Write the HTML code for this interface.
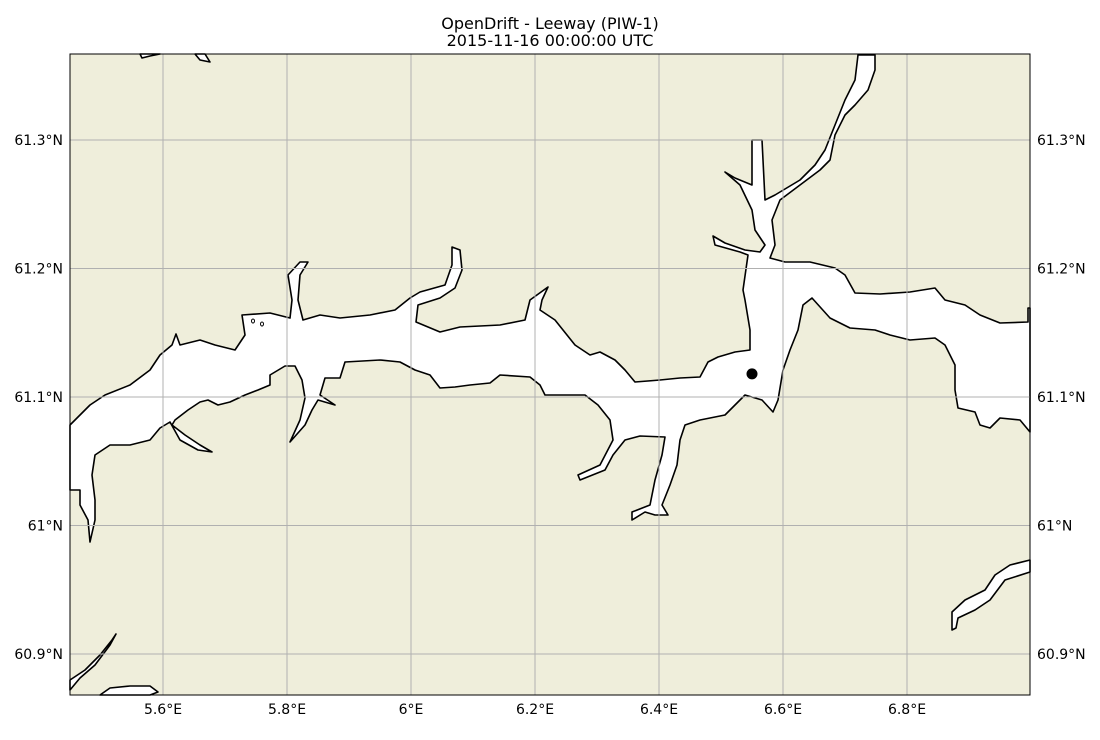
<!DOCTYPE html>
<html><head><meta charset="utf-8">
<style>
body{margin:0;background:#fff;font-family:"DejaVu Sans","Liberation Sans",sans-serif;}
svg text{font-family:"DejaVu Sans","Liberation Sans",sans-serif;}
</style></head>
<body>
<svg id="chart" width="1100" height="736" xmlns="http://www.w3.org/2000/svg">
<text x="550" y="29" text-anchor="middle" font-size="16">OpenDrift - Leeway (PIW-1)</text>
<text x="550" y="46" text-anchor="middle" font-size="16">2015-11-16 00:00:00 UTC</text>
<rect x="70" y="54" width="960" height="641" fill="#efeedb"/>
<g id="water" fill="#fff" stroke="#000" stroke-width="1.6" stroke-linejoin="round">
<path d="M70,425 L90,405 L105,395 L130,385 L150,370 L160,355 L172,345 L176,334 L180,345 L200,340 L215,345 L235,350 L245,335 L242,315 L270,313 L290,318 L292,300 L288,275 L300,262 L308,262 L300,275 L298,300 L303,320 L320,315 L340,318 L370,315 L395,310 L410,298 L420,292 L445,285 L452,265 L452,247 L460,250 L462,270 L455,288 L440,298 L418,305 L416,322 L440,332 L460,327 L480,326 L500,325 L525,320 L530,300 L548,287 L542,300 L540,310 L555,320 L575,345 L590,355 L600,352 L615,360 L625,370 L635,382 L660,380 L680,378 L700,377 L708,362 L718,357 L735,352 L750,350 L750,330 L745,300 L743,290 L748,255 L740,252 L715,245 L713,236 L725,243 L745,250 L760,252 L765,245 L755,230 L752,210 L740,185 L725,172 L735,178 L752,185 L752,140 L762,140 L765,200 L775,195 L800,180 L815,165 L825,150 L835,125 L845,100 L855,80 L858,55 L875,55 L875,70 L868,90 L855,105 L845,115 L835,135 L830,160 L820,170 L800,185 L780,200 L772,220 L775,245 L770,258 L785,262 L810,262 L835,268 L845,275 L855,293 L880,294 L910,292 L935,288 L945,300 L965,305 L980,315 L1000,323 L1028,322 L1028,308 L1030,308 L1030,432 L1020,420 L1000,418 L990,428 L980,425 L975,412 L958,408 L955,390 L955,365 L945,345 L935,338 L910,340 L890,335 L875,330 L850,328 L830,318 L812,298 L803,305 L798,330 L790,350 L783,370 L778,400 L773,412 L762,400 L745,395 L735,405 L725,415 L700,420 L685,425 L680,440 L677,465 L670,485 L662,505 L668,515 L655,515 L645,512 L632,520 L632,512 L650,505 L655,480 L662,455 L665,437 L640,436 L625,440 L613,455 L605,470 L580,480 L578,475 L600,465 L613,440 L610,420 L598,405 L585,395 L560,395 L545,395 L540,385 L530,377 L500,375 L490,383 L470,385 L455,387 L440,388 L430,375 L415,370 L400,362 L380,360 L345,362 L340,378 L325,378 L320,395 L335,405 L318,400 L312,410 L305,425 L290,442 L300,420 L305,398 L302,380 L295,366 L285,366 L270,375 L270,385 L258,390 L245,395 L230,402 L218,405 L208,400 L200,402 L188,410 L175,420 L172,425 L185,435 L200,445 L212,452 L198,450 L180,440 L170,422 L160,428 L150,440 L130,445 L110,445 L95,455 L92,475 L95,500 L95,520 L90,542 L88,520 L80,505 L80,490 L70,490 Z"/>
<path d="M1030,560 L1010,565 L995,575 L985,590 L965,600 L952,612 L952,630 L956,628 L958,618 L975,610 L990,600 L1005,580 L1030,572 Z"/>
<path d="M140,54 L142,58 L150,56 L160,54 Z M195,54 L200,60 L210,62 L205,54 Z"/>
<path d="M70,680 L85,670 L100,655 L112,640 L116,634 L110,645 L95,665 L80,678 L70,690 Z M100,695 L110,688 L130,686 L150,686 L158,692 L150,695 Z"/>
</g>
<ellipse cx="253" cy="321" rx="1.5" ry="2" fill="none" stroke="#000"/>
<ellipse cx="262" cy="324" rx="1.5" ry="2" fill="none" stroke="#000"/>
<g id="grid"></g>
<g id="ticks"></g>
<g id="particles"></g>
<rect x="70" y="54" width="960" height="641" fill="none" stroke="#000" stroke-width="1"/>
</svg>
<script>
const lonTicks=[5.6,5.8,6.0,6.2,6.4,6.6,6.8];
const lonLabels=["5.6°E","5.8°E","6°E","6.2°E","6.4°E","6.6°E","6.8°E"];
const latTicks=[61.3,61.2,61.1,61.0,60.9];
const latLabels=["61.3°N","61.2°N","61.1°N","61°N","60.9°N"];
const particleLon=[6.55];
const particleLat=[61.118];
function xOf(lon){return 163+(lon-5.6)/0.2*124;}
function yOf(lat){return 140+(61.3-lat)/0.1*128.5;}
const NS="http://www.w3.org/2000/svg";
const grid=document.getElementById('grid'),ticks=document.getElementById('ticks'),parts=document.getElementById('particles');
function mk(t,a,p){const e=document.createElementNS(NS,t);for(const k in a)e.setAttribute(k,a[k]);p.appendChild(e);return e;}
lonTicks.forEach((v,i)=>{const x=xOf(v);
 const l=mk('line',{x1:x,x2:x,y1:54,y2:695,stroke:'#b0b0b0','stroke-width':1},grid);
 
 
 const t=mk('text',{x:x,y:714,'text-anchor':'middle','font-size':14},ticks);t.textContent=lonLabels[i];
 
 });
latTicks.forEach((v,i)=>{const y=yOf(v);
 const l=mk('line',{x1:70,x2:1030,y1:y,y2:y,stroke:'#b0b0b0','stroke-width':1},grid);
 
 
 const t=mk('text',{x:63,y:y+5,'text-anchor':'end','font-size':14},ticks);t.textContent=latLabels[i];
 
 
 const t2=mk('text',{x:1037,y:y+5,'text-anchor':'start','font-size':14},ticks);t2.textContent=latLabels[i];
 
 });
particleLon.forEach((v,i)=>{const c=mk('circle',{cx:xOf(v),cy:yOf(particleLat[i]),r:5.5,fill:'#000'},parts);
 
 });
</script>
</body></html>
